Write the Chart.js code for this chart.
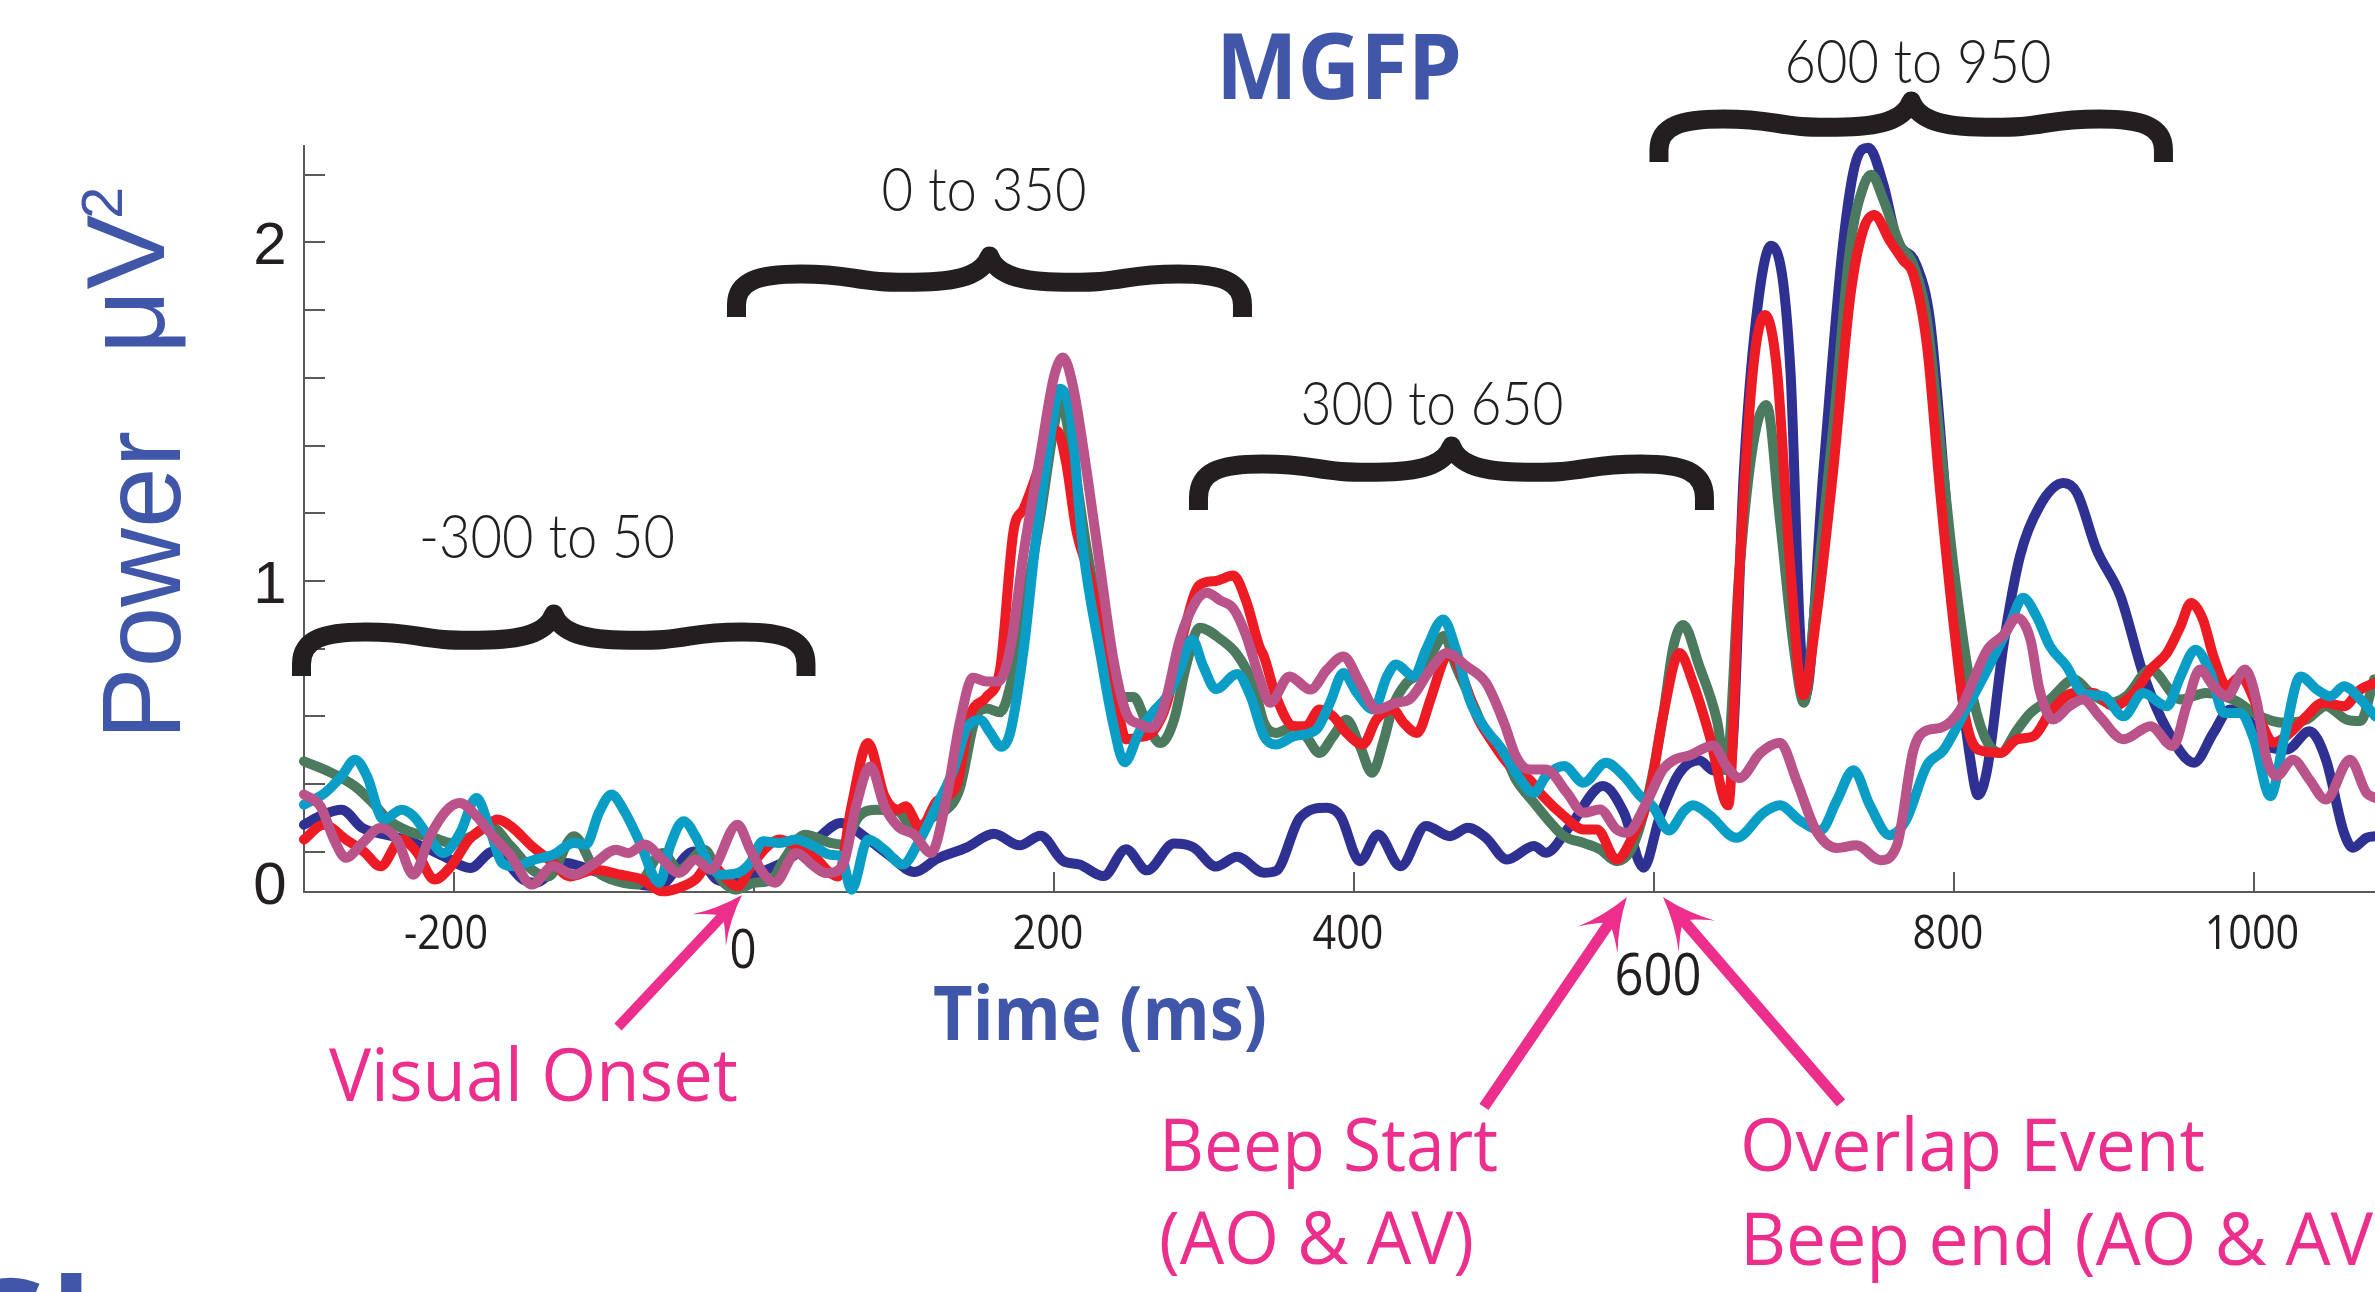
<!DOCTYPE html>
<html><head><meta charset="utf-8">
<script src="https://cdn.jsdelivr.net/npm/chart.js@4.4.1/dist/chart.umd.min.js"></script>
<style>html,body{margin:0;padding:0;background:#fff;overflow:hidden}canvas{display:block}</style>
</head><body>
<canvas id="c" width="2375" height="1292"></canvas>
<script>
// ---- data: [time (ms), power (uV^2)] ----
const navy = [[-300,0.28],[-287,0.31],[-275,0.324],[-261,0.27],[-241,0.246],[-221,0.216],[-207,0.187],[-189,0.152],[-174,0.201],[-154,0.118],[-146,0.108],[-126,0.167],[-106,0.142],[-87,0.113],[-64,0.098],[-40,0.201],[-25,0.118],[-11,0.108],[5,0.14],[20,0.17],[40,0.23],[58,0.285],[75,0.24],[90,0.19],[107,0.14],[122,0.179],[142,0.213],[160,0.253],[177,0.219],[191,0.247],[206,0.173],[217,0.162],[233,0.128],[248,0.207],[262,0.145],[280,0.224],[293,0.213],[308,0.156],[322,0.185],[340,0.138],[348,0.143],[364,0.3],[382,0.33],[391,0.305],[404,0.172],[416,0.251],[431,0.157],[448,0.276],[464,0.246],[476,0.271],[488,0.241],[502,0.177],[520,0.217],[528,0.197],[544,0.276],[566,0.394],[580,0.315],[593,0.153],[604,0.305],[617,0.433],[630,0.47],[640,0.44],[651,0.46],[660,1.33],[668,1.77],[678,1.99],[691,1.62],[697,0.88],[701,0.662],[713,1.327],[726,1.993],[735,2.244],[743,2.28],[753,2.17],[762,2.007],[775,1.933],[784,1.771],[793,1.327],[802,0.81],[811,0.47],[816,0.367],[822,0.44],[833,0.81],[844,1.073],[857,1.22],[873,1.289],[882,1.26],[895,1.093],[911,0.955],[926,0.728],[942,0.561],[960,0.463],[973,0.551],[984,0.62],[993,0.61],[1008,0.512],[1022,0.502],[1037,0.556],[1048,0.472],[1060,0.256],[1066,0.212],[1075,0.241],[1081,0.246]];
const green = [[-300,0.467],[-286,0.442],[-266,0.393],[-254,0.344],[-244,0.295],[-230,0.26],[-213,0.241],[-202,0.226],[-188,0.246],[-176,0.275],[-162,0.216],[-148,0.147],[-137,0.127],[-120,0.246],[-106,0.147],[-95,0.118],[-78,0.103],[-61,0.196],[-50,0.147],[-33,0.206],[-22,0.118],[-12,0.088],[0,0.108],[12,0.118],[20,0.177],[34,0.25],[51,0.226],[59,0.221],[70,0.305],[82,0.324],[96,0.319],[107,0.265],[118,0.3],[126,0.316],[137,0.384],[148,0.6],[155,0.623],[164,0.612],[171,0.692],[182,0.965],[191,1.193],[200,1.455],[204,1.534],[213,1.352],[222,1.09],[235,0.805],[246,0.657],[253,0.657],[262,0.577],[271,0.521],[280,0.589],[288,0.748],[297,0.862],[311,0.828],[322,0.783],[333,0.692],[340,0.581],[348,0.551],[360,0.571],[368,0.541],[377,0.492],[386,0.541],[395,0.59],[404,0.512],[412,0.433],[420,0.531],[426,0.63],[435,0.699],[444,0.728],[451,0.778],[460,0.837],[468,0.748],[480,0.63],[486,0.571],[500,0.492],[508,0.413],[520,0.345],[531,0.286],[540,0.246],[553,0.226],[564,0.207],[575,0.172],[586,0.217],[597,0.384],[606,0.6],[613,0.807],[619.5,0.87],[630,0.751],[642,0.588],[648,0.441],[657,1.032],[666,1.401],[675,1.52],[684,1.18],[693,0.81],[700,0.64],[708,0.958],[720,1.475],[731,1.993],[740,2.17],[745,2.2],[753,2.126],[764,1.993],[773,1.933],[782,1.771],[791,1.401],[800,1.032],[811,0.692],[820,0.544],[831,0.492],[842,0.559],[851,0.61],[864,0.65],[880,0.709],[891,0.669],[904,0.64],[915,0.66],[931,0.738],[951,0.65],[968,0.669],[986,0.65],[1004,0.6],[1020,0.581],[1035,0.59],[1048,0.63],[1062,0.59],[1071,0.586],[1080,0.709]];
const red = [[-300,0.236],[-287,0.28],[-272,0.236],[-260,0.2],[-249,0.157],[-235,0.236],[-225,0.2],[-213,0.118],[-202,0.157],[-190,0.236],[-179,0.275],[-171,0.295],[-162,0.275],[-148,0.216],[-134,0.167],[-123,0.127],[-106,0.147],[-89,0.132],[-75,0.118],[-61,0.083],[-50,0.093],[-39,0.118],[-29,0.167],[-22,0.137],[-11,0.098],[-2,0.157],[9,0.216],[17,0.236],[28,0.216],[40,0.187],[50,0.14],[56,0.127],[65,0.334],[76,0.521],[87,0.364],[96,0.324],[101,0.334],[111,0.27],[122,0.35],[135,0.395],[144,0.6],[155,0.657],[164,0.737],[173,1.147],[180,1.215],[186,1.284],[193,1.375],[202,1.443],[208,1.352],[215,1.147],[224,1.01],[233,0.805],[242,0.635],[248,0.532],[257,0.538],[266,0.555],[275,0.635],[286,0.84],[297,0.988],[308,1.0],[319.5,1.016],[328,0.942],[337,0.805],[340,0.777],[348,0.659],[360,0.571],[368,0.571],[377,0.62],[386,0.6],[395,0.551],[406,0.517],[415,0.591],[426,0.62],[433,0.581],[442,0.551],[451,0.65],[460,0.768],[464,0.787],[473,0.709],[482,0.6],[491,0.532],[504,0.453],[517,0.413],[526,0.364],[540,0.305],[553,0.266],[562,0.266],[575,0.177],[586,0.246],[597,0.37],[606,0.6],[617,0.787],[626,0.699],[637,0.544],[649.5,0.337],[657,1.032],[666,1.623],[674,1.786],[682,1.623],[691,1.032],[699.5,0.662],[708,0.884],[719.5,1.327],[731,1.845],[739.5,2.037],[747,2.081],[757,2.007],[766,1.948],[773,1.904],[782,1.697],[791,1.254],[799.5,0.884],[808,0.588],[817,0.5],[831,0.492],[842,0.532],[853,0.541],[864,0.61],[880,0.669],[893,0.669],[906,0.63],[920,0.669],[931,0.738],[942,0.787],[951,0.866],[958,0.935],[966,0.886],[973,0.777],[982,0.689],[991,0.718],[1000,0.65],[1006,0.571],[1013,0.522],[1024,0.551],[1035,0.6],[1046,0.64],[1060,0.63],[1071,0.679],[1081,0.699]];
const cyan = [[-300,0.339],[-286,0.374],[-275,0.423],[-266,0.472],[-258,0.423],[-247,0.295],[-235,0.324],[-227,0.305],[-218.5,0.255],[-207,0.196],[-196,0.255],[-185,0.359],[-176,0.265],[-168,0.167],[-160,0.157],[-146,0.177],[-134,0.191],[-120,0.226],[-112,0.221],[-103.5,0.314],[-95,0.369],[-87,0.324],[-75,0.216],[-67,0.127],[-63,0.108],[-56,0.216],[-47,0.29],[-39,0.246],[-30.5,0.167],[-22,0.132],[-11,0.137],[-2.5,0.167],[6,0.231],[17,0.226],[28,0.236],[40,0.216],[51,0.191],[58,0.187],[65,0.088],[76,0.236],[87,0.206],[99,0.162],[110,0.23],[122,0.338],[133,0.441],[142,0.566],[151,0.589],[157,0.555],[165,0.51],[171,0.555],[180,0.805],[188,1.124],[197,1.409],[204,1.568],[211,1.489],[219.5,1.09],[231,0.782],[239.5,0.577],[247,0.464],[257,0.555],[266,0.612],[275,0.657],[284,0.737],[292,0.828],[299.5,0.748],[308,0.68],[322,0.725],[331,0.66],[340,0.541],[348,0.517],[360,0.541],[375,0.561],[384,0.64],[393,0.728],[402,0.669],[413,0.62],[422,0.718],[428,0.753],[440,0.718],[448,0.797],[459.5,0.886],[468,0.797],[477,0.65],[488,0.561],[497,0.512],[508,0.433],[520,0.374],[528,0.423],[540,0.453],[553,0.404],[568,0.463],[580,0.423],[591,0.364],[599,0.335],[610,0.263],[620,0.32],[626,0.337],[637,0.308],[655,0.241],[673,0.315],[684,0.337],[697,0.293],[711,0.263],[722,0.352],[733,0.441],[744,0.337],[757,0.249],[768,0.293],[782,0.455],[793,0.5],[806,0.603],[822,0.736],[837,0.869],[846,0.95],[855,0.896],[864,0.807],[875,0.748],[886,0.669],[900,0.659],[913,0.6],[926,0.669],[942,0.63],[951,0.718],[961,0.797],[971,0.728],[980,0.61],[991,0.61],[1000,0.532],[1011,0.364],[1020,0.532],[1031,0.718],[1042,0.679],[1051,0.659],[1060,0.689],[1071,0.65],[1081,0.6]];
const mauve = [[-300,0.369],[-289,0.334],[-280,0.236],[-272,0.182],[-261,0.226],[-249,0.27],[-238,0.236],[-227,0.132],[-216,0.246],[-204.5,0.324],[-196,0.344],[-185,0.305],[-174,0.246],[-162,0.187],[-148,0.103],[-134,0.157],[-120,0.132],[-106,0.167],[-92,0.206],[-84,0.196],[-73,0.221],[-61,0.177],[-50,0.137],[-39,0.177],[-29,0.147],[-11,0.28],[-2.5,0.206],[6,0.137],[14,0.108],[28,0.196],[40,0.157],[48,0.137],[59,0.157],[68,0.334],[77.5,0.452],[87,0.334],[96,0.275],[107,0.25],[118,0.196],[128,0.35],[137,0.577],[146,0.714],[155,0.703],[163,0.703],[171,0.805],[180,1.09],[191,1.375],[200,1.603],[206,1.66],[213,1.568],[222,1.318],[231,1.033],[239.5,0.771],[248,0.612],[257,0.577],[265,0.566],[273,0.623],[284,0.828],[295,0.942],[302,0.965],[311,0.942],[319.5,0.919],[328,0.84],[337,0.714],[344,0.64],[357,0.718],[371,0.679],[382,0.738],[393,0.777],[404,0.699],[415,0.62],[428,0.64],[437,0.65],[451,0.738],[462,0.787],[475,0.748],[488,0.699],[500,0.581],[508,0.482],[517,0.443],[528,0.443],[542,0.374],[553,0.315],[564,0.325],[575,0.266],[582,0.256],[595,0.345],[606,0.443],[613,0.47],[624,0.485],[639.5,0.514],[648,0.455],[657,0.418],[671,0.492],[684,0.522],[695,0.411],[708,0.263],[722,0.211],[735,0.219],[751,0.175],[762,0.219],[773,0.5],[782,0.559],[791,0.566],[804,0.618],[813,0.707],[822,0.795],[833,0.84],[842,0.891],[851,0.827],[857,0.679],[866,0.591],[877,0.63],[886,0.65],[897,0.6],[913,0.532],[931,0.571],[946,0.512],[955,0.63],[964,0.738],[973,0.689],[982,0.659],[994,0.738],[1002,0.64],[1008,0.482],[1015,0.423],[1026,0.472],[1037,0.413],[1048,0.354],[1064,0.472],[1075,0.374],[1081,0.359]];

const xTickValues = [-200, 0, 200, 400, 600, 800, 1000];
const xTickLabels = ['-200', '0', '200', '400', '600', '800', '1000'];
const yTickValues = [0.2, 0.4, 0.6, 0.8, 1.0, 1.2, 1.4, 1.6, 1.8, 2.0, 2.2];
const yLabelValues = [2, 1];
const yLabelTexts = ['2', '1'];
const windowLabels = ['-300 to 50', '0 to 350', '300 to 650', '600 to 950'];
const windowFrom = [-308, -18, 290, 597];
const windowTo = [41, 332, 640, 946];

// ---- styles ----
const BLUE = '#4057a9', PINK = '#ec2f8d', INK = '#231f20', AXIS = '#595a5c';
const series = [
  {label:'mauve', pts:mauve, color:'#b9538a', order:1},
  {label:'cyan',  pts:cyan,  color:'#0a9ec6', order:2},
  {label:'red',   pts:red,   color:'#ed1c24', order:3},
  {label:'green', pts:green, color:'#4b7a5e', order:4},
  {label:'navy',  pts:navy,  color:'#2e3192', order:5}
];
const braceY = [[605,676],[247,317],[437,510],[92,162]];
const braceLabelPos = [[547,558,256],[984,211,205],[1432,425,263],[1918,83,267]];

function fitText(ctx, txt, x, y, font, color, width, align, scaleOverride){
  ctx.save();
  ctx.font = font; ctx.fillStyle = color; ctx.textBaseline = 'alphabetic';
  const w = ctx.measureText(txt).width;
  const s = scaleOverride || (width ? width / w : 1);
  ctx.translate(x, y); ctx.scale(s, 1);
  ctx.textAlign = align || 'left';
  ctx.fillText(txt, 0, 0);
  ctx.restore();
  return s;
}

function drawBrace(ctx, xL, xR, yTop, yBot){
  const lw = 19, h = lw/2;
  const xl = xL + h, xr = xR - h, xm = (xL + xR)/2;
  ctx.save();
  ctx.strokeStyle = INK; ctx.lineWidth = lw; ctx.lineCap = 'butt'; ctx.lineJoin = 'round';
  ctx.beginPath();
  ctx.moveTo(xl, yBot);
  ctx.lineTo(xl, yBot - 12);
  ctx.bezierCurveTo(xl, yTop + 34, xl + 22, yTop + 27, xl + 64, yTop + 27);
  ctx.bezierCurveTo(xl + 125, yTop + 27, xm - 140, yTop + 37, xm - 66, yTop + 35);
  ctx.bezierCurveTo(xm - 24, yTop + 34, xm - 6, yTop + 25, xm, yTop + 9);
  ctx.bezierCurveTo(xm + 6, yTop + 25, xm + 24, yTop + 34, xm + 66, yTop + 35);
  ctx.bezierCurveTo(xm + 140, yTop + 37, xr - 125, yTop + 27, xr - 64, yTop + 27);
  ctx.bezierCurveTo(xr - 22, yTop + 27, xr, yTop + 34, xr, yBot - 12);
  ctx.lineTo(xr, yBot);
  ctx.stroke();
  ctx.restore();
}

function drawArrow(ctx, x0, y0, x1, y1, lw, headLen, headW){
  const dx = x1 - x0, dy = y1 - y0, L = Math.hypot(dx, dy);
  const ux = dx/L, uy = dy/L, px = -uy, py = ux;
  ctx.save();
  ctx.strokeStyle = PINK; ctx.fillStyle = PINK; ctx.lineWidth = lw; ctx.lineCap = 'butt';
  ctx.beginPath(); ctx.moveTo(x0, y0); ctx.lineTo(x1 - ux*headLen*0.6, y1 - uy*headLen*0.6); ctx.stroke();
  const bx = x1 - ux*headLen, by = y1 - uy*headLen;
  const nx = x1 - ux*headLen*0.62, ny = y1 - uy*headLen*0.62;
  ctx.beginPath();
  ctx.moveTo(x1, y1);
  ctx.quadraticCurveTo(x1 - ux*headLen*0.55 + px*headW*0.35, y1 - uy*headLen*0.55 + py*headW*0.35, bx + px*headW, by + py*headW);
  ctx.quadraticCurveTo(nx + px*headW*0.2, ny + py*headW*0.2, nx, ny);
  ctx.quadraticCurveTo(nx - px*headW*0.2, ny - py*headW*0.2, bx - px*headW, by - py*headW);
  ctx.quadraticCurveTo(x1 - ux*headLen*0.55 - px*headW*0.35, y1 - uy*headLen*0.55 - py*headW*0.35, x1, y1);
  ctx.closePath(); ctx.fill();
  ctx.restore();
}

const overlay = {
  id: 'overlay',
  beforeDatasetsDraw(chart){
    const {ctx, scales:{x, y}, chartArea:ca} = chart;
    ctx.save();
    ctx.strokeStyle = AXIS; ctx.lineWidth = 2;
    yTickValues.forEach(v => {
      const py = Math.round(y.getPixelForValue(v));
      ctx.beginPath(); ctx.moveTo(ca.left, py); ctx.lineTo(ca.left + 21, py); ctx.stroke();
    });
    xTickValues.forEach(v => {
      const px = Math.round(x.getPixelForValue(v));
      ctx.beginPath(); ctx.moveTo(px, ca.bottom); ctx.lineTo(px, ca.bottom - 20); ctx.stroke();
    });
    ctx.restore();
  },
  afterDraw(chart){
    const {ctx, scales:{x, y}, chartArea:ca} = chart;
    yLabelValues.forEach((v, i) => {
      const py = y.getPixelForValue(v);
      fitText(ctx, yLabelTexts[i], 270, py + 22, '60px "Liberation Sans", Arial', INK, 0, 'center');
    });
    fitText(ctx, '0', 270, ca.bottom + 12, '60px "Liberation Sans", Arial', INK, 0, 'center');
    const xSizes = [48, 55, 48, 48, 59, 48, 48];
    const xBase = [949, 968, 949, 949, 995, 949, 949];
    const xDx = [-8, -11, -6, -6, 4, -6, -2];
    xTickValues.forEach((v, i) => {
      fitText(ctx, xTickLabels[i], x.getPixelForValue(v) + xDx[i], xBase[i], xSizes[i] + 'px "Open Sans"', INK, 0, 'center', 0.86);
    });
    windowLabels.forEach((lab, i) => {
      drawBrace(ctx, x.getPixelForValue(windowFrom[i]), x.getPixelForValue(windowTo[i]), braceY[i][0], braceY[i][1]);
      const p = braceLabelPos[i];
      fitText(ctx, lab, p[0], p[1], '300 62px Lato, "Open Sans"', INK, p[2], 'center');
    });
    fitText(ctx, 'MGFP', 1339, 99, '700 92px "Open Sans"', BLUE, 246, 'center');
    fitText(ctx, 'Time (ms)', 1100, 1040, '700 76px "Open Sans"', BLUE, 334, 'center');
    ctx.save();
    ctx.translate(180, 740); ctx.rotate(-Math.PI/2);
    fitText(ctx, 'Power', 0, 0, '112px "Liberation Sans", Arial', BLUE, 309, 'left');
    fitText(ctx, 'μV', 386, -16, '112px "Liberation Sans", Arial', BLUE, 0, 'left');
    fitText(ctx, '2', 521, -58, '58px "Liberation Sans", Arial', BLUE, 0, 'left');
    ctx.restore();
    fitText(ctx, 'Visual Onset', 329, 1101, '74px "Open Sans"', PINK, 409, 'left');
    fitText(ctx, 'Beep Start', 1159, 1171, '74px "Open Sans"', PINK, 339, 'left');
    fitText(ctx, '(AO & AV)', 1159, 1264, '74px "Open Sans"', PINK, 315, 'left');
    const s = fitText(ctx, 'Overlap Event', 1740, 1171, '74px "Open Sans"', PINK, 465, 'left');
    fitText(ctx, 'Beep end (AO & AV)', 1740, 1265, '74px "Open Sans"', PINK, 0, 'left', s);
    drawArrow(ctx, 618, 1027, x.getPixelForValue(-8), 895, 10, 48, 23);
    drawArrow(ctx, 1484, 1107, x.getPixelForValue(582), 897, 11, 52, 24);
    drawArrow(ctx, 1841, 1103, x.getPixelForValue(606), 897, 11, 52, 24);
    fitText(ctx, 'Gl', -48, 1377, '700 136px "Open Sans"', BLUE, 0, 'left');
  }
};

new Chart(document.getElementById('c'), {
  type: 'line',
  data: {
    datasets: series.map(s => ({
      label: s.label,
      data: s.pts.map(([t, v]) => ({x: t, y: v})),
      borderColor: s.color,
      backgroundColor: s.color,
      borderWidth: 10,
      pointRadius: 0,
      cubicInterpolationMode: 'monotone',
      borderCapStyle: 'round',
      borderJoinStyle: 'round',
      order: s.order,
      clip: false,
      fill: false
    }))
  },
  options: {
    responsive: false,
    devicePixelRatio: 1,
    animation: false,
    events: [],
    layout: {padding: {left: 304, top: 146, right: 0, bottom: 400}},
    plugins: {legend: {display: false}, title: {display: false}, tooltip: {enabled: false}},
    scales: {
      x: {type: 'linear', min: -300, max: 1080.7,
          ticks: {display: false}, grid: {display: true, drawOnChartArea: false, drawTicks: false},
          border: {display: true, color: AXIS, width: 2},
          afterFit(s){ s.height = 0; }},
      y: {type: 'linear', min: 0.081, max: 2.285,
          ticks: {display: false}, grid: {display: true, drawOnChartArea: false, drawTicks: false},
          border: {display: true, color: AXIS, width: 2},
          afterFit(s){ s.width = 0; }}
    }
  },
  plugins: [overlay]
});
</script>
</body></html>
